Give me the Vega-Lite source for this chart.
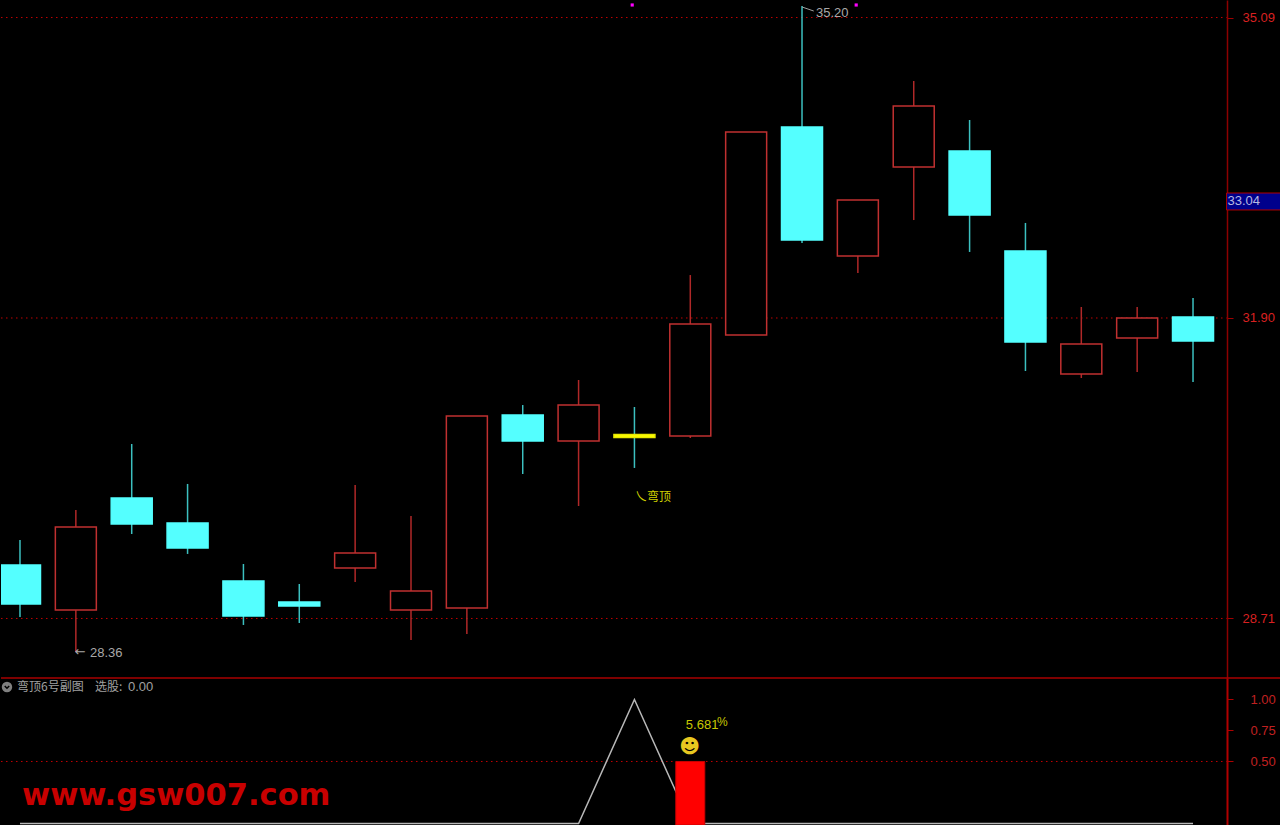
{"$schema":"https://vega.github.io/schema/vega-lite/v6.json","background":"#000000","padding":0,"spacing":0,"bounds":"flush","config":{"view":{"stroke":null},"font":"Liberation Sans"},
"datasets":{"candles":[
{"i":0,"high":29.543,"top":29.278,"bottom":28.864,"low":28.726,"kind":"down"},
{"i":1,"high":29.862,"top":29.681,"bottom":28.8,"low":28.354,"kind":"up"},
{"i":2,"high":30.562,"top":29.989,"bottom":29.713,"low":29.607,"kind":"down"},
{"i":3,"high":30.138,"top":29.724,"bottom":29.458,"low":29.395,"kind":"down"},
{"i":4,"high":29.288,"top":29.108,"bottom":28.736,"low":28.641,"kind":"down"},
{"i":5,"high":29.076,"top":28.885,"bottom":28.843,"low":28.662,"kind":"down"},
{"i":6,"high":30.127,"top":29.405,"bottom":29.246,"low":29.097,"kind":"up"},
{"i":7,"high":29.798,"top":29.002,"bottom":28.8,"low":28.482,"kind":"up"},
{"i":8,"high":30.86,"top":30.86,"bottom":28.821,"low":28.545,"kind":"up"},
{"i":9,"high":30.976,"top":30.87,"bottom":30.594,"low":30.244,"kind":"down"},
{"i":10,"high":31.242,"top":30.976,"bottom":30.594,"low":29.904,"kind":"up"},
{"i":11,"high":30.955,"top":30.663,"bottom":30.631,"low":30.308,"kind":"flat"},
{"i":12,"high":32.356,"top":31.836,"bottom":30.647,"low":30.626,"kind":"up"},
{"i":13,"high":33.875,"top":33.875,"bottom":31.72,"low":31.72,"kind":"up"},
{"i":14,"high":35.212,"top":33.928,"bottom":32.728,"low":32.696,"kind":"down"},
{"i":15,"high":33.153,"top":33.153,"bottom":32.558,"low":32.378,"kind":"up"},
{"i":16,"high":34.416,"top":34.151,"bottom":33.503,"low":32.94,"kind":"up"},
{"i":17,"high":34.002,"top":33.673,"bottom":32.993,"low":32.601,"kind":"down"},
{"i":18,"high":32.909,"top":32.611,"bottom":31.645,"low":31.337,"kind":"down"},
{"i":19,"high":32.017,"top":31.624,"bottom":31.306,"low":31.263,"kind":"up"},
{"i":20,"high":32.017,"top":31.9,"bottom":31.688,"low":31.327,"kind":"up"},
{"i":21,"high":32.112,"top":31.911,"bottom":31.656,"low":31.221,"kind":"down"}
],
"signal":[{"i":0,"v":0},{"i":1,"v":0},{"i":2,"v":0},{"i":3,"v":0},{"i":4,"v":0},{"i":5,"v":0},{"i":6,"v":0},{"i":7,"v":0},{"i":8,"v":0},{"i":9,"v":0},{"i":10,"v":0},{"i":11,"v":1},{"i":12,"v":0},{"i":13,"v":0},{"i":14,"v":0},{"i":15,"v":0},{"i":16,"v":0},{"i":17,"v":0},{"i":18,"v":0},{"i":19,"v":0},{"i":20,"v":0},{"i":21,"v":0}]},
"vconcat":[
{"width":1280,"height":678,
"encoding":{"x":{"type":"quantitative","scale":{"domain":[-0.34,22.575],"zero":false,"nice":false,"padding":0},"axis":null},
"y":{"type":"quantitative","scale":{"domain":[28.078,35.276],"zero":false,"nice":false},"axis":{"orient":"right","offset":-54,"values":[28.71,31.9,35.09],"format":".2f","grid":false,"domainColor":"#8c0000","domainWidth":1.5,"tickColor":"#a00000","tickSize":6,"labelColor":"#d82020","labelFontSize":13,"labelPadding":9,"labelFont":"Liberation Sans","labelBound":false,"labelFlush":false,"labelOverlap":false,"title":null}}},
"layer":[
{"data":{"values":[{"level":28.71,"from":-0.34,"to":21.6},{"level":31.9,"from":-0.34,"to":21.6},{"level":35.09,"from":-0.34,"to":21.6}]},"mark":{"type":"rule","color":"#c00000","strokeWidth":1,"strokeDash":[1.5,3.5]},"encoding":{"x":{"field":"from","type":"quantitative"},"x2":{"field":"to"},"y":{"field":"level","type":"quantitative"}}},
{"data":{"name":"candles"},"mark":{"type":"rule","strokeWidth":1.5},"encoding":{"x":{"field":"i","type":"quantitative"},"y":{"field":"high","type":"quantitative"},"y2":{"field":"low"},"color":{"field":"kind","type":"nominal","legend":null,"scale":{"domain":["up","down","flat"],"range":["#b02828","#3cc0c0","#3cc0c0"]}}}},
{"data":{"name":"candles"},"mark":{"type":"bar","orient":"vertical","size":41,"strokeWidth":1.5,"clip":true},"encoding":{"x":{"field":"i","type":"quantitative"},"y":{"field":"top","type":"quantitative"},"y2":{"field":"bottom"},"fill":{"field":"kind","type":"nominal","legend":null,"scale":{"domain":["up","down","flat"],"range":["#000000","#54ffff","#ffff00"]}},"stroke":{"field":"kind","type":"nominal","legend":null,"scale":{"domain":["up","down","flat"],"range":["#c03030","#54ffff","#e8e800"]}}}},
{"data":{"values":[{"x":10.96,"y":35.223},{"x":14.97,"y":35.223}]},"mark":{"type":"point","shape":"square","filled":true,"color":"#ff00ff","size":10,"opacity":1},"encoding":{"x":{"field":"x","type":"quantitative"},"y":{"field":"y","type":"quantitative"}}},
{"data":{"values":[{"x":14,"x2":14.21,"y":35.202,"y2":35.159}]},"mark":{"type":"rule","color":"#a0a0a0","strokeWidth":1},"encoding":{"x":{"field":"x","type":"quantitative"},"x2":{"field":"x2"},"y":{"field":"y","type":"quantitative"},"y2":{"field":"y2"}}},
{"data":{"values":[{"x":14.25,"y":35.138,"t":"35.20"},{"x":1.253,"y":28.344,"t":"28.36"}]},"mark":{"type":"text","align":"left","baseline":"middle","color":"#a8a8a8","fontSize":13,"font":"Liberation Sans"},"encoding":{"x":{"field":"x","type":"quantitative"},"y":{"field":"y","type":"quantitative"},"text":{"field":"t"}}},
{"data":{"values":[{"x":1,"y":28.354,"t":"←"}]},"mark":{"type":"text","align":"left","baseline":"middle","color":"#a8a8a8","fontSize":13,"font":"DejaVu Sans","dx":-1},"encoding":{"x":{"field":"x","type":"quantitative"},"y":{"field":"y","type":"quantitative"},"text":{"field":"t"}}},
{"data":{"values":[{"x":11.01,"y":30.0,"t":"乀弯顶"}]},"mark":{"type":"text","align":"left","baseline":"middle","color":"#d0d000","fontSize":12,"font":"Noto Sans CJK SC"},"encoding":{"x":{"field":"x","type":"quantitative"},"y":{"field":"y","type":"quantitative"},"text":{"field":"t"}}},
{"data":{"values":[{"x":21.6,"x2":22.575,"y":33.047,"y2":33.227}]},"mark":{"type":"rect","fill":"#00008c","stroke":"#b00000","strokeWidth":1},"encoding":{"x":{"field":"x","type":"quantitative"},"x2":{"field":"x2"},"y":{"field":"y","type":"quantitative"},"y2":{"field":"y2"}}},
{"data":{"values":[{"x":21.6,"y":33.137,"t":"33.04"}]},"mark":{"type":"text","align":"left","baseline":"middle","color":"#b8b8e0","fontSize":13,"font":"Liberation Sans","dx":1},"encoding":{"x":{"field":"x","type":"quantitative"},"y":{"field":"y","type":"quantitative"},"text":{"field":"t"}}}
]},
{"width":1280,"height":147,
"encoding":{"x":{"type":"quantitative","scale":{"domain":[-0.34,22.575],"zero":false,"nice":false,"padding":0},"axis":null},
"y":{"type":"quantitative","scale":{"domain":[-0.012,1.173],"zero":false,"nice":false},"axis":{"orient":"right","offset":-54,"values":[0.5,0.75,1],"format":".2f","grid":false,"domainColor":"#b00000","domainWidth":2,"tickColor":"#b00000","tickSize":6,"labelColor":"#c02020","labelFontSize":13,"labelPadding":17,"labelFont":"Liberation Sans","labelBound":false,"labelFlush":false,"labelOverlap":false,"title":null}}},
"layer":[
{"data":{"values":[{"level":0.5,"from":-0.34,"to":21.6}]},"mark":{"type":"rule","color":"#c00000","strokeWidth":1,"strokeDash":[1.5,3.5]},"encoding":{"x":{"field":"from","type":"quantitative"},"x2":{"field":"to"},"y":{"field":"level","type":"quantitative"}}},
{"data":{"values":[{"level":1.173}]},"mark":{"type":"rule","color":"#a80000","strokeWidth":1.5},"encoding":{"y":{"field":"level","type":"quantitative"}}},
{"data":{"name":"signal"},"mark":{"type":"line","color":"#b8b8b8","strokeWidth":1.5},"encoding":{"x":{"field":"i","type":"quantitative"},"y":{"field":"v","type":"quantitative"}}},
{"data":{"values":[{"i":12,"v":0.5,"v0":-0.012}]},"mark":{"type":"bar","orient":"vertical","size":29,"fill":"#ff0000","stroke":"#c80000","strokeWidth":1},"encoding":{"x":{"field":"i","type":"quantitative"},"y":{"field":"v","type":"quantitative"},"y2":{"field":"v0"}}},
{"data":{"values":[{"x":-0.233,"y":1.1}]},"mark":{"type":"point","shape":"circle","filled":true,"color":"#808080","size":110,"opacity":1},"encoding":{"x":{"field":"x","type":"quantitative"},"y":{"field":"y","type":"quantitative"}}},
{"data":{"values":[{"x":-0.233,"y":1.1}]},"mark":{"type":"point","shape":"M-1,-0.5L0,0.5L1,-0.5","filled":false,"color":"#000000","strokeWidth":1.5,"size":20,"opacity":1},"encoding":{"x":{"field":"x","type":"quantitative"},"y":{"field":"y","type":"quantitative"}}},
{"data":{"values":[{"x":-0.054,"y":1.1,"t":"弯顶6号副图"},{"x":1.343,"y":1.1,"t":"选股:"}]},"mark":{"type":"text","align":"left","baseline":"middle","color":"#a0a0a0","fontSize":12,"font":"Noto Sans CJK SC"},"encoding":{"x":{"field":"x","type":"quantitative"},"y":{"field":"y","type":"quantitative"},"text":{"field":"t"}}},
{"data":{"values":[{"x":1.933,"y":1.1,"t":"0.00"}]},"mark":{"type":"text","align":"left","baseline":"middle","color":"#a0a0a0","fontSize":13,"font":"Liberation Sans"},"encoding":{"x":{"field":"x","type":"quantitative"},"y":{"field":"y","type":"quantitative"},"text":{"field":"t"}}},
{"data":{"values":[{"x":11.92,"y":0.794,"t":"5.681"}]},"mark":{"type":"text","align":"left","baseline":"middle","color":"#c8c800","fontSize":13,"font":"Liberation Sans"},"encoding":{"x":{"field":"x","type":"quantitative"},"y":{"field":"y","type":"quantitative"},"text":{"field":"t"}}},
{"data":{"values":[{"x":12.48,"y":0.818,"t":"%"}]},"mark":{"type":"text","align":"left","baseline":"middle","color":"#c8c800","fontSize":12,"font":"Liberation Sans"},"encoding":{"x":{"field":"x","type":"quantitative"},"y":{"field":"y","type":"quantitative"},"text":{"field":"t"}}},
{"data":{"values":[{"x":11.99,"y":0.617,"t":"☻"}]},"mark":{"type":"text","align":"center","baseline":"middle","color":"#e8c820","fontSize":20,"font":"DejaVu Sans"},"encoding":{"x":{"field":"x","type":"quantitative"},"y":{"field":"y","type":"quantitative"},"text":{"field":"t"}}},
{"data":{"values":[{"x":0.036,"y":0.149,"t":"www.gsw007.com"}]},"mark":{"type":"text","align":"left","baseline":"alphabetic","color":"#c80000","fontSize":30.5,"fontWeight":"bold","font":"DejaVu Sans"},"encoding":{"x":{"field":"x","type":"quantitative"},"y":{"field":"y","type":"quantitative"},"text":{"field":"t"}}}
]}
]}
